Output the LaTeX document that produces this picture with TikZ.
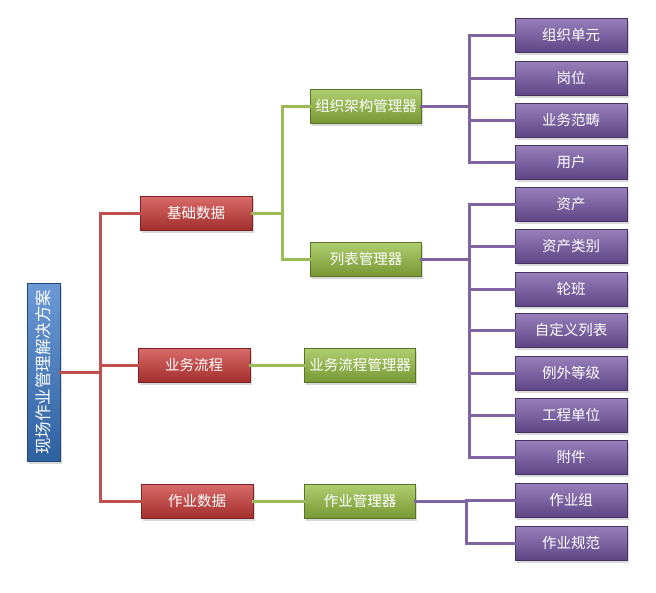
\documentclass[tikz,border=0pt]{standalone}
\usepackage{fontspec}
\setmainfont{Noto Sans CJK SC}
\usepackage{xcolor}
\usetikzlibrary{positioning, shadows}

\definecolor{rootblue}{HTML}{3A78C8}
\definecolor{catred}{HTML}{CC3A38}
\definecolor{mgrgreen}{HTML}{95BE40}
\definecolor{itempurple}{HTML}{7656A6}
\definecolor{redline}{HTML}{C0504D}
\definecolor{greenline}{HTML}{9BBB59}
\definecolor{purpleline}{HTML}{8064A2}

\tikzset{
  box/.style={minimum height=34pt, inner sep=0pt, text=white,
    font=\fontsize{14.5}{16}\selectfont, draw=#1!60!black, line width=0.7pt,
    top color=#1!75!white, middle color=#1, bottom color=#1!80!black,
    drop shadow={opacity=0.3, shadow xshift=1.5pt, shadow yshift=-2.5pt}},
  catbox/.style={box=catred, minimum width=112pt},
  mgrbox/.style={box=mgrgreen, minimum width=111pt},
  itembox/.style={box=itempurple, minimum width=112pt},
  link/.style={line width=3pt, line cap=rect}
}

\begin{document}
\begin{tikzpicture}[x=1pt, y=-1pt]
\useasboundingbox (0,0) rectangle (656,592);

% Root
\node[box=rootblue, rotate=90, minimum width=178pt, minimum height=33pt,
  font=\fontsize{16.5}{18}\selectfont] (root) at (43.5,372) {现场作业管理解决方案};

% Categories
\node[catbox] (jc) at (196,213) {基础数据};
\node[catbox] (yw) at (194,365) {业务流程};
\node[catbox] (zy) at (197,501) {作业数据};

% Managers
\node[mgrbox] (org)  at (366,106) {组织架构管理器};
\node[mgrbox] (list) at (366,259) {列表管理器};
\node[mgrbox] (flow) at (360,365) {业务流程管理器};
\node[mgrbox] (work) at (360,501) {作业管理器};

% Items
\foreach \n/\y/\t in {p1/35/组织单元, p2/78/岗位, p3/120/业务范畴, p4/162/用户,
    p5/204/资产, p6/246/资产类别, p7/289/轮班, p8/330/自定义列表,
    p9/373/例外等级, p10/415/工程单位, p11/457/附件,
    p12/500/作业组, p13/543/作业规范} {
  \node[itembox] (\n) at (571,\y) {\t};
}

% Buses
\coordinate (rbus) at (100,0);
\coordinate (gbus) at (282,0);
\coordinate (pbus) at (469,0);
\coordinate (wbus) at (466,0);

% Root -> categories
\draw[link, redline] (root.south) -- (root.south -| rbus);
\draw[link, redline] (rbus |- jc) -- (rbus |- zy);
\foreach \n in {jc, yw, zy} {
  \draw[link, redline] (rbus |- \n) -- (\n.west);
}

% Categories -> managers
\draw[link, greenline] (jc.east) -- (gbus |- jc);
\draw[link, greenline] (gbus |- org) -- (gbus |- list);
\foreach \n in {org, list} {
  \draw[link, greenline] (gbus |- \n) -- (\n.west);
}
\draw[link, greenline] (yw.east) -- (flow.west);
\draw[link, greenline] (zy.east) -- (work.west);

% Managers -> items
\draw[link, purpleline] (org.east) -- (pbus |- org);
\draw[link, purpleline] (pbus |- p1) -- (pbus |- p4);
\foreach \n in {p1, p2, p3, p4} {
  \draw[link, purpleline] (pbus |- \n) -- (\n.west);
}
\draw[link, purpleline] (list.east) -- (pbus |- list);
\draw[link, purpleline] (pbus |- p5) -- (pbus |- p11);
\foreach \n in {p5, p6, p7, p8, p9, p10, p11} {
  \draw[link, purpleline] (pbus |- \n) -- (\n.west);
}
\draw[link, purpleline] (work.east) -- (wbus |- work);
\draw[link, purpleline] (wbus |- p12) -- (wbus |- p13);
\foreach \n in {p12, p13} {
  \draw[link, purpleline] (wbus |- \n) -- (\n.west);
}
\end{tikzpicture}
\end{document}
